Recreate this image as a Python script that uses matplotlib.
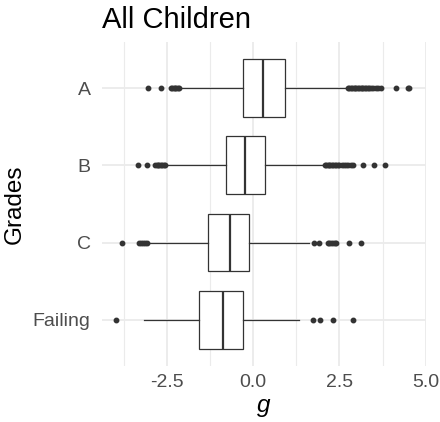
import matplotlib.pyplot as plt
import numpy as np

# grades, bottom to top
grades = ['Failing', 'C', 'B', 'A']

# box summaries
q1 = [-1.57, -1.30, -0.79, -0.31]
med = [-0.87, -0.68, -0.23, 0.27]
q3 = [-0.31, -0.12, 0.35, 0.92]
whislo = [-3.17, -3.00, -2.52, -2.13]
whishi = [1.32, 1.61, 2.06, 2.73]

# outliers
out_failing = [-3.97, 1.73, 1.94, 2.31, 2.89]
out_c = [-3.80, -3.31, -3.25, -3.20, -3.14, -3.08,
         1.77, 1.92, 2.16, 2.20, 2.25, 2.30, 2.36, 2.40, 2.79, 3.11]
out_b = [-3.33, -3.07, -2.85, -2.80, -2.76, -2.72, -2.68, -2.64, -2.60, -2.56,
         2.08, 2.12, 2.16, 2.20, 2.24, 2.28, 2.32, 2.36, 2.40, 2.45, 2.50,
         2.56, 2.62, 2.68, 2.75, 2.82, 2.90, 3.18, 3.49, 3.81]
out_a = [-3.05, -2.67, -2.39, -2.35, -2.31, -2.27, -2.23, -2.19, -2.15,
         2.75, 2.79, 2.83, 2.87, 2.91, 2.95, 2.99, 3.03, 3.07, 3.11, 3.15,
         3.19, 3.23, 3.27, 3.32, 3.37, 3.42, 3.48, 3.55, 3.62, 3.71,
         4.15, 4.48, 4.53]
outliers = [out_failing, out_c, out_b, out_a]

stats = []
for i in range(len(grades)):
    stats.append(dict(label=grades[i], q1=q1[i], med=med[i], q3=q3[i],
                      whislo=whislo[i], whishi=whishi[i], fliers=outliers[i]))

plt.rcParams['font.family'] = ['Liberation Sans', 'DejaVu Sans']

fig = plt.figure(figsize=(4.4, 4.22), dpi=100)
ax = fig.add_axes([0.231, 0.1327, 0.7365, 0.7678])

line = '#333333'
ax.bxp(stats, positions=range(1, 5), vert=False, widths=0.75, patch_artist=True,
       showcaps=False,
       boxprops=dict(facecolor='white', edgecolor=line, linewidth=0.9),
       medianprops=dict(color=line, linewidth=1.6),
       whiskerprops=dict(color=line, linewidth=0.9),
       flierprops=dict(marker='o', markerfacecolor=line, markeredgecolor=line,
                       markersize=3.2, linestyle='none'),
       zorder=3)

lo = min(min(o) for o in outliers)
hi = max(max(o) for o in outliers)
pad = 0.05 * (hi - lo)
ax.set_xlim(lo - pad, hi + pad)
ax.set_ylim(0.4, 4.6)

ax.set_xticks([-2.5, 0.0, 2.5, 5.0])
ax.set_xticklabels(['-2.5', '0.0', '2.5', '5.0'])
ax.set_xticks([-3.75, -1.25, 1.25, 3.75], minor=True)
ax.set_yticks(range(1, 5))
ax.set_yticklabels(grades)

ax.grid(True, which='major', color='#EBEBEB', linewidth=1.3, zorder=0)
ax.grid(True, which='minor', axis='x', color='#EBEBEB', linewidth=0.8, zorder=0)
ax.set_axisbelow(True)
for s in ax.spines.values():
    s.set_visible(False)
ax.tick_params(which='both', length=0, labelsize=14, labelcolor='#4D4D4D')
ax.tick_params(axis='y', pad=8)
ax.tick_params(axis='x', pad=6)

ax.set_xlabel('g', fontsize=17.5, style='italic', labelpad=2)
ax.set_ylabel('Grades', fontsize=17.5, labelpad=5)
ax.set_title('All Children', fontsize=21, loc='left', pad=10)

fig.savefig('out.png', dpi=100)
